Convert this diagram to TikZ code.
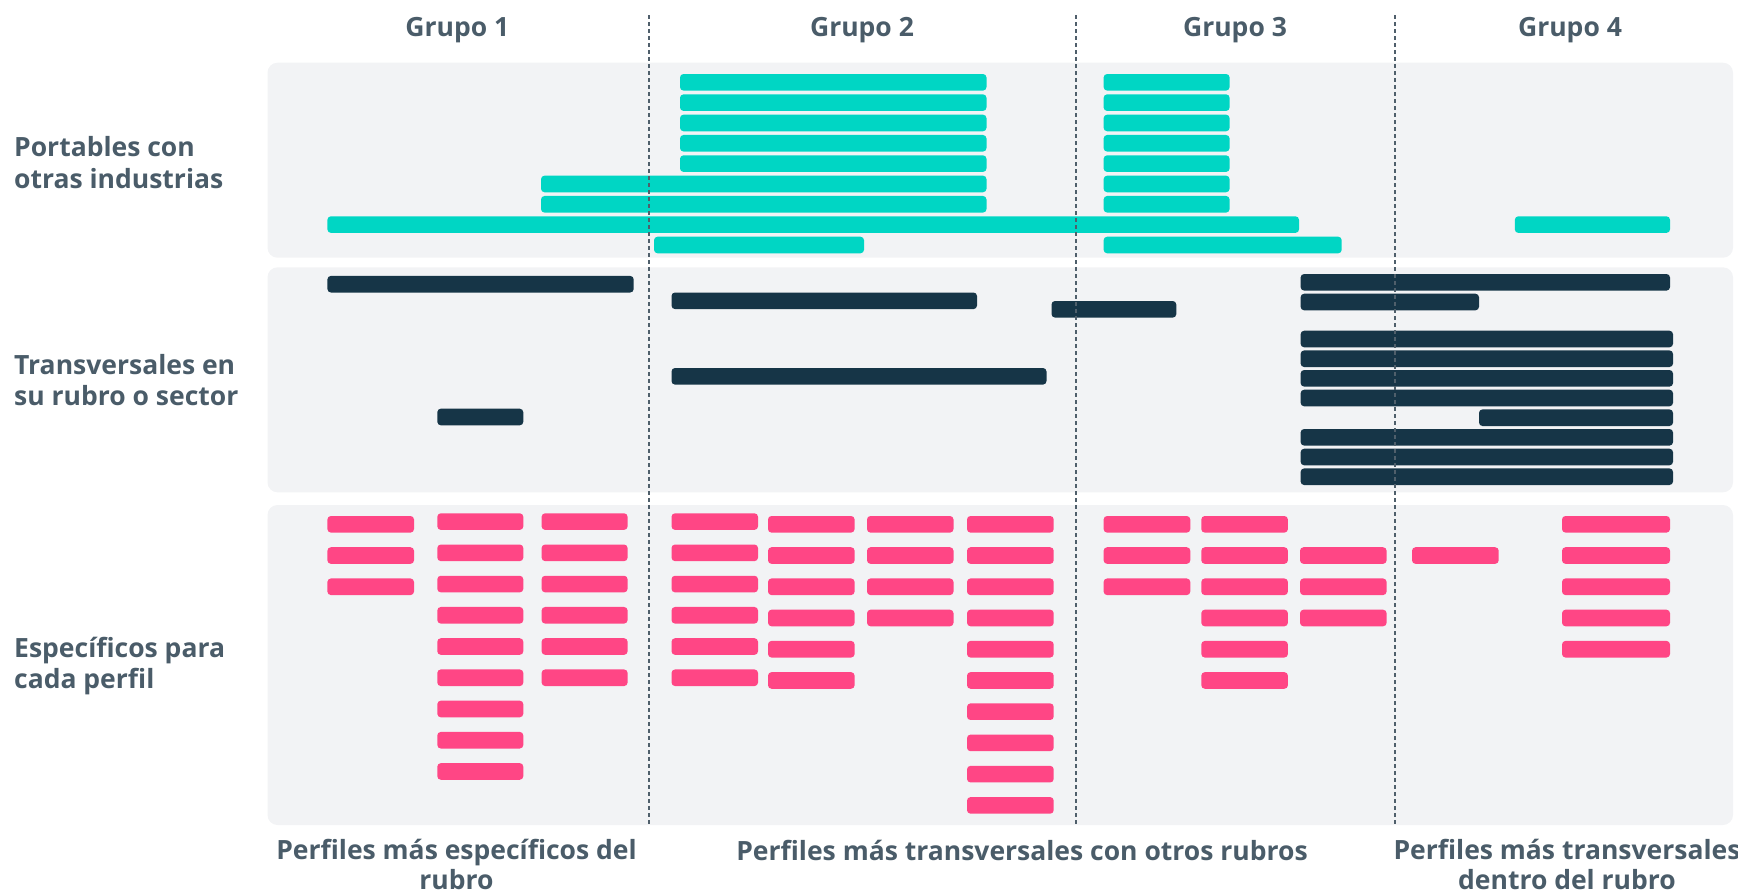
\documentclass[tikz,border=0pt]{standalone}
\usepackage{fontspec}
\setmainfont{Open Sans}
\definecolor{panelbg}{HTML}{F2F3F5}
\definecolor{tealbar}{HTML}{00D6C4}
\definecolor{navybar}{HTML}{163547}
\definecolor{pinkbar}{HTML}{FF4685}
\definecolor{labeltext}{HTML}{4A5C69}
\definecolor{dashcol}{HTML}{4F5F6B}
\tikzset{
  panel/.style={fill=panelbg, rounded corners=10pt},
  tbar/.style={fill=tealbar, rounded corners=3.5pt},
  nbar/.style={fill=navybar, rounded corners=3.5pt},
  pbar/.style={fill=pinkbar, rounded corners=3.5pt},
  divider/.style={draw=dashcol, line width=1.2pt, dash pattern=on 4pt off 3pt},
  lbl/.style={text=labeltext, font=\fontsize{26.5}{31.5}\selectfont\bfseries, inner sep=0pt},
  btm/.style={text=labeltext, font=\fontsize{26.5}{30}\selectfont\bfseries, inner sep=0pt},
}
\begin{document}
\begin{tikzpicture}[x=1pt,y=-1pt]
\useasboundingbox (0,0) rectangle (1738,892);
% panels
\fill[panel] (267.5,62.7) rectangle (1733,257.7);
\fill[panel] (267.5,267.3) rectangle (1733,492.3);
\fill[panel] (267.5,505) rectangle (1733,825);
% teal bars
\foreach \k in {0,...,4}{
  \fill[tbar] (680,82.3+20.33*\k-8.3) rectangle (986.5,82.3+20.33*\k+8.3);
}
\foreach \k in {5,6}{
  \fill[tbar] (541,82.3+20.33*\k-8.3) rectangle (986.5,82.3+20.33*\k+8.3);
}
\foreach \k in {0,...,6}{
  \fill[tbar] (1103.6,82.3+20.33*\k-8.3) rectangle (1229.6,82.3+20.33*\k+8.3);
}
\fill[tbar] (327.4,224.6-8.3) rectangle (1299,224.6+8.3);
\fill[tbar] (1514.8,224.6-8.3) rectangle (1670,224.6+8.3);
\fill[tbar] (654,245-8.3) rectangle (864,245+8.3);
\fill[tbar] (1103.6,245-8.3) rectangle (1341.7,245+8.3);
% navy bars
\foreach \xa/\xb/\yc in {327.4/633.7/284.2, 671.5/977/300.8, 671.5/1046.5/376.3,
  437.3/523.3/417, 1051.5/1176.3/309.3, 1300.6/1670/282.3, 1300.6/1479/302,
  1300.6/1673/339, 1300.6/1673/358.7, 1300.6/1673/378.3, 1300.6/1673/398,
  1479/1673/417.7, 1300.6/1673/437.3, 1300.6/1673/457, 1300.6/1673/476.7}{
  \fill[nbar] (\xa,\yc-8.3) rectangle (\xb,\yc+8.3);
}
% pink bars
\foreach \xa/\xb/\ka/\kb/\yo in {327.4/414/0/2/524.3, 437.3/523.3/0/8/521.6,
  541.6/627.6/0/5/521.6, 671.5/758/0/5/521.6, 768/854.6/0/5/524.3,
  867/953.5/0/3/524.3, 967/1053.7/0/9/524.3, 1103.6/1190.3/0/2/524.3,
  1201.3/1287.9/0/5/524.3, 1300/1386.6/1/3/524.3, 1412/1498.7/1/1/524.3,
  1562/1670/0/4/524.3}{
  \foreach \k in {\ka,...,\kb}{
    \fill[pbar] (\xa,\yo+31.23*\k-8.3) rectangle (\xb,\yo+31.23*\k+8.3);
  }
}
% dividers
\coordinate (d1t) at (649,15);   \coordinate (d1b) at (649,825);
\coordinate (d2t) at (1076,15);  \coordinate (d2b) at (1076,825);
\coordinate (d3t) at (1395,15);  \coordinate (d3b) at (1395,825);
\draw[divider] (d1t) -- (d1b);
\draw[divider] (d2t) -- (d2b);
\draw[divider] (d3t) -- (d3b);
% headers
\node[lbl, anchor=base] (g1) at (457.4,36.7) {Grupo 1};
\node[lbl, anchor=base] (g2) at (862,36.7) {Grupo 2};
\node[lbl, anchor=base] (g3) at (1235,36.7) {Grupo 3};
\node[lbl, anchor=base] (g4) at (1570,36.7) {Grupo 4};
% row labels
\node[lbl, anchor=west, align=left] (r1) at (14,162.4) {Portables con\\otras industrias};
\node[lbl, anchor=west, align=left] (r2) at (14,380) {Transversales en\\su rubro o sector};
\node[lbl, anchor=west, align=left] (r3) at (14,666) {Específicos para\\cada perfil};
% bottom labels
\node[btm, align=center] (b1) at (456.5,864) {Perfiles más específicos del\\rubro};
\node[btm, anchor=base] (b2) at (1022,860) {Perfiles más transversales con otros rubros};
\node[btm, align=center] (b3) at (1567,864) {Perfiles más transversales\\dentro del rubro};
\end{tikzpicture}
\end{document}
